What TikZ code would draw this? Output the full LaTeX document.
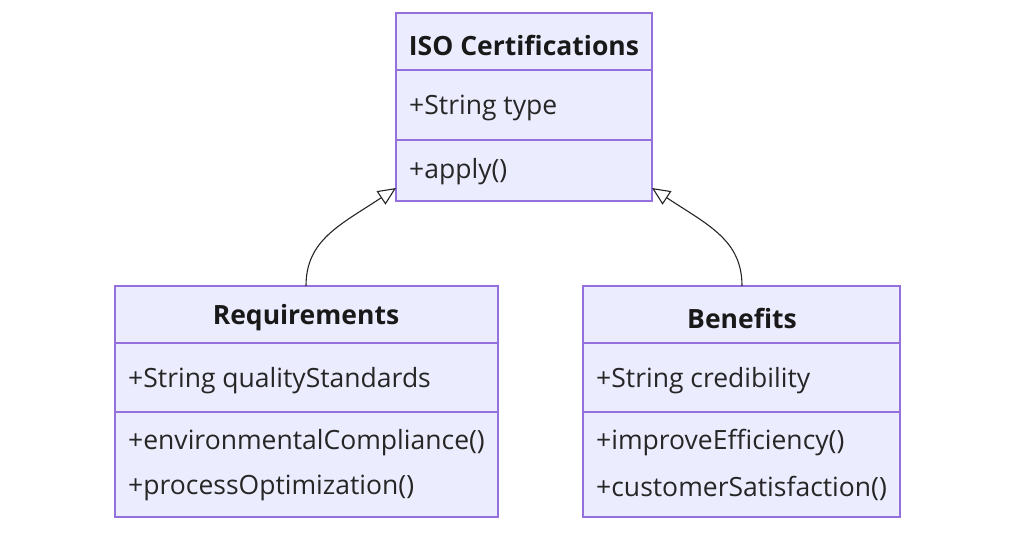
\documentclass[tikz,border=0pt]{standalone}
\usepackage{fontspec}
\setmainfont{Open Sans}
\usetikzlibrary{arrows.meta}
\definecolor{cfill}{HTML}{ECECFF}
\definecolor{cline}{HTML}{9370DB}
\begin{document}
\begin{tikzpicture}[x=1pt,y=-1pt,
  box/.style={draw=cline,fill=cfill,line width=1.2pt,inner sep=0pt},
  txt/.style={anchor=west,inner sep=0pt,font=\fontsize{26.5}{30}\selectfont,text=black!85},
  ttl/.style={inner sep=0pt,font=\fontsize{26.5}{30}\selectfont\bfseries,text=black!90},
  inh/.style={draw=black!85,line width=1.1pt,-{Triangle[open,length=18pt,width=16pt,fill=white]}}]
\useasboundingbox (0,0) rectangle (1024,554);
% ISO
\draw[box] (396,13) rectangle (652,201);
\draw[cline,line width=1.2pt] (396,70)--(652,70) (396,140)--(652,140);
\node[ttl] (isot) at (524,45) {ISO Certifications};
\node[txt] (isoa) at (409,108) {+String type};
\node[txt] (isom) at (409,172) {+apply()};
\coordinate (isoL) at (396,188);
\coordinate (isoR) at (652,188);
% Requirements
\draw[box] (115,286) rectangle (498,517);
\draw[cline,line width=1.2pt] (115,343)--(498,343) (115,412)--(498,412);
\node[ttl] (reqt) at (306,318) {Requirements};
\node[txt] (reqa) at (128,381) {+String qualityStandards};
\node[txt] (reqm1) at (128,443) {+environmentalCompliance()};
\node[txt] (reqm2) at (128,488) {+processOptimization()};
\coordinate (reqT) at (306,286);
% Benefits
\draw[box] (583,286) rectangle (900,517);
\draw[cline,line width=1.2pt] (583,343)--(900,343) (583,412)--(900,412);
\node[ttl] (bent) at (742,318) {Benefits};
\node[txt] (bena) at (596,381) {+String credibility};
\node[txt] (benm1) at (596,443) {+improveEfficiency()};
\node[txt] (benm2) at (596,488) {+customerSatisfaction()};
\coordinate (benT) at (742,286);
% arrows
\draw[inh] (reqT) .. controls (306,240) and (340,225) .. (isoL);
\draw[inh] (benT) .. controls (742,240) and (708,225) .. (isoR);
\end{tikzpicture}
\end{document}
